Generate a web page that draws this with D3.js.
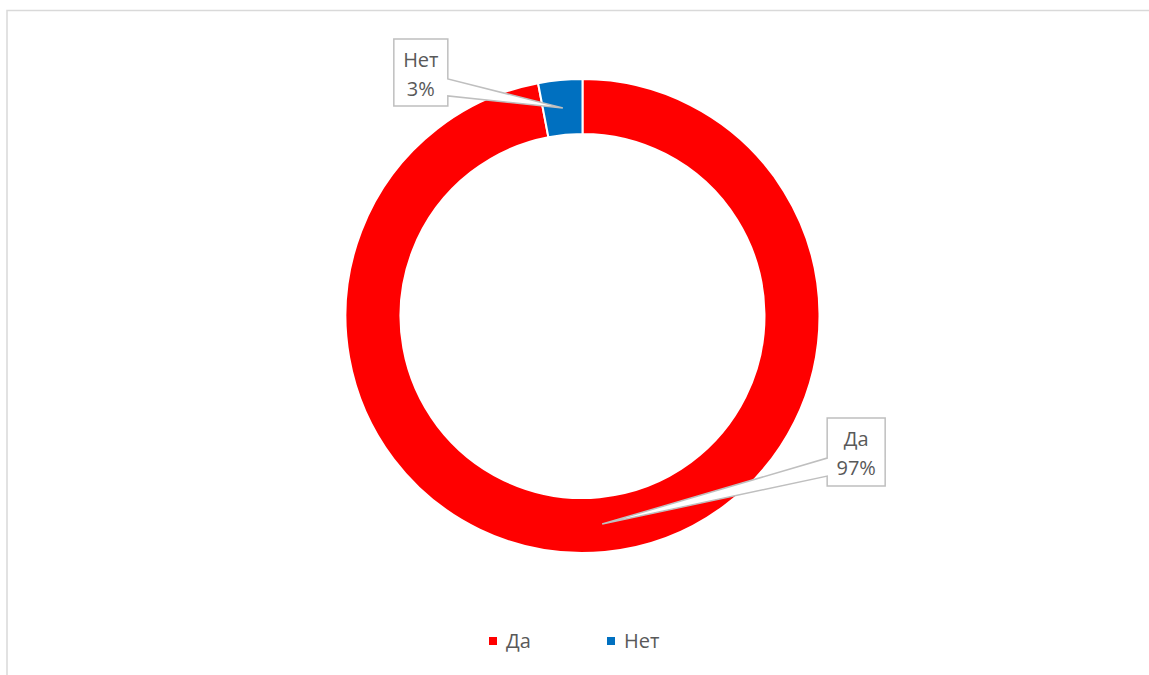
<!DOCTYPE html>
<html>
<head>
<meta charset="utf-8">
<script src="https://cdn.jsdelivr.net/npm/d3@7"></script>
<style>
  body { margin: 0; background: #fff; }
  svg { display: block; }
  text { font-family: "Open Sans", "Noto Sans", sans-serif; fill: #595959; }
</style>
</head>
<body>
<div id="chart"></div>
<script>
// data
var categories = ['Да', 'Нет'];
var values = [97, 3];
var colors = ['#FF0000', '#0070C0'];

var width = 1149, height = 675;
var cx = 582.5, cy = 316;
var outerR = 237, innerR = 182;

var svg = d3.select('#chart')
  .append('svg')
    .attr('width', width)
    .attr('height', height);

// chart area border
svg.append('rect')
  .attr('x', 7)
  .attr('y', 10.5)
  .attr('width', 1200)
  .attr('height', 700)
  .attr('fill', 'none')
  .attr('stroke', '#D9D9D9')
  .attr('stroke-width', 1.5);

var total = d3.sum(values);
var pie = d3.pie().sort(null).value(function (d) { return d; });
var arcs = pie(values);

var arc = d3.arc().innerRadius(innerR).outerRadius(outerR);
var midArc = d3.arc().innerRadius(209).outerRadius(209);

var g = svg.append('g')
  .attr('transform', 'translate(' + cx + ',' + cy + ')');

g.selectAll('path.slice')
  .data(arcs)
  .enter()
  .append('path')
    .attr('class', 'slice')
    .attr('d', arc)
    .attr('fill', function (d, i) { return colors[i]; })
    .attr('stroke', '#fff')
    .attr('stroke-width', 2);

// callout boxes: offset of box from the slice centroid, size, which side the pointer leaves from
var callouts = [
  { dx: 225, dy: -106, w: 58, h: 68, side: 'left', a: 40, b: 58 },
  { dx: -115, dy: -69, w: 54, h: 67, side: 'right', a: 40, b: 57 }
];

arcs.forEach(function (d, i) {
  var c = midArc.centroid(d);
  var tx = cx + c[0], ty = cy + c[1];
  var o = callouts[i];
  var x0 = tx + o.dx, y0 = ty + o.dy;
  if (o.side === 'right') { x0 = tx + o.dx - o.w; }
  var x1 = x0 + o.w, y1 = y0 + o.h;

  var p = d3.path();
  if (o.side === 'left') {
    p.moveTo(x0, y0);
    p.lineTo(x1, y0);
    p.lineTo(x1, y1);
    p.lineTo(x0, y1);
    p.lineTo(x0, y0 + o.b);
    p.lineTo(tx, ty);
    p.lineTo(x0, y0 + o.a);
    p.closePath();
  } else {
    p.moveTo(x0, y0);
    p.lineTo(x1, y0);
    p.lineTo(x1, y0 + o.a);
    p.lineTo(tx, ty);
    p.lineTo(x1, y0 + o.b);
    p.lineTo(x1, y1);
    p.lineTo(x0, y1);
    p.closePath();
  }
  svg.append('path')
    .attr('d', p.toString())
    .attr('fill', '#fff')
    .attr('stroke', '#BFBFBF')
    .attr('stroke-width', 1.5)
    .attr('stroke-linejoin', 'miter');

  var pct = Math.round(d.value / total * 100) + '%';
  var lx = (x0 + x1) / 2;
  svg.append('text')
    .attr('x', lx)
    .attr('y', y0 + 28)
    .attr('text-anchor', 'middle')
    .style('font-size', '20px')
    .text(categories[i]);
  svg.append('text')
    .attr('x', lx)
    .attr('y', y0 + 57)
    .attr('text-anchor', 'middle')
    .style('font-size', '20px')
    .text(pct);
});

// legend
var legendX = d3.scalePoint().domain(categories).range([489, 607]);
var legend = svg.selectAll('g.legend')
  .data(categories)
  .enter()
  .append('g')
    .attr('class', 'legend')
    .attr('transform', function (d) { return 'translate(' + legendX(d) + ',637)'; });

legend.append('rect')
  .attr('width', 8)
  .attr('height', 8)
  .attr('fill', function (d, i) { return colors[i]; });

legend.append('text')
  .attr('x', 17)
  .attr('y', 11)
  .style('font-size', '20px')
  .text(function (d) { return d; });
</script>
</body>
</html>
